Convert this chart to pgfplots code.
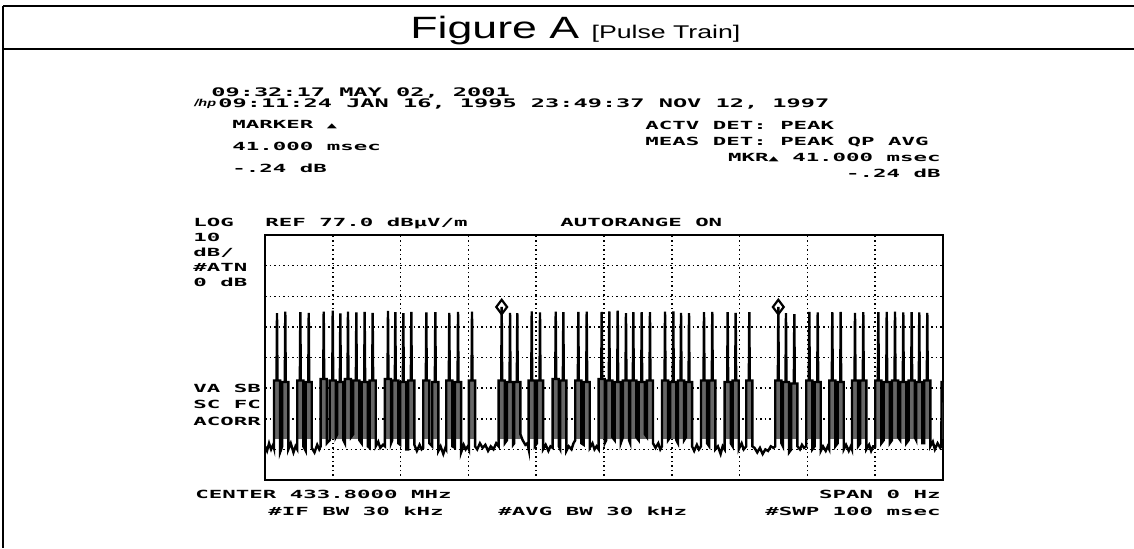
\documentclass[border=0pt]{standalone}
\usepackage{pgfplots}
\pgfplotsset{compat=1.18}
\usepackage{pgfplotstable}
\usepackage{fontspec}
\newfontfamily\hpfont[FakeStretch=2.0]{DejaVu Sans Mono Bold}
\newfontfamily\titlefont[FakeStretch=1.45]{Liberation Sans}
\newcommand\hp[1]{{\hpfont\fontsize{5.6}{6}\selectfont #1}}
\newcommand\hpt[1]{{\hpfont\fontsize{5.9}{6}\selectfont #1}}
\newcommand\dlt{{\hpfont\fontsize{4.2}{4}\selectfont ▲}}

\pgfplotstableread[row sep=\\]{
x y\\
0 8\\ 0.3 6.5\\ 0.6 9\\ 0.9 7\\ 1.2 8.5\\
1.32 7.5\\1.32 29.5\\1.70 29.5\\1.77 51.5\\1.84 29.5\\2.22 29.5\\2.22 6\\
2.54 8\\2.54 29\\2.92 29\\2.99 52\\3.06 29\\3.44 29\\3.44 7\\
3.8 9\\ 4.2 6\\ 4.5 8\\
4.76 7\\4.76 29.5\\5.14 29.5\\5.21 51.8\\5.28 29.5\\5.66 29.5\\5.66 8\\
6.00 6.5\\6.00 29\\6.38 29\\6.45 51.6\\6.52 29\\6.90 29\\6.90 7.5\\
7.3 6\\ 7.7 8.5\\ 8.0 7\\
8.21 8\\8.21 30\\8.59 30\\8.66 52\\8.73 30\\9.11 30\\9.11 9\\
9.54 10\\9.54 29.5\\9.92 29.5\\9.99 52.3\\10.06 29.5\\10.44 29.5\\10.44 11\\
10.66 12\\10.66 29\\11.04 29\\11.11 51.4\\11.18 29\\11.56 29\\11.56 10\\
11.79 9\\11.79 30\\12.17 30\\12.24 52\\12.31 30\\12.69 30\\12.69 11\\
13.02 12\\13.02 29.5\\13.40 29.5\\13.47 51.7\\13.54 29.5\\13.92 29.5\\13.92 10\\
14.25 9\\14.25 29\\14.63 29\\14.70 51.9\\14.77 29\\15.15 29\\15.15 8\\
15.43 7.5\\15.43 29.5\\15.81 29.5\\15.88 51.6\\15.95 29.5\\16.33 29.5\\16.33 8\\
16.7 9.5\\ 17.0 7.5\\ 17.4 8.5\\
17.69 8\\17.69 30\\18.07 30\\18.14 52.2\\18.21 30\\18.59 30\\18.59 9\\
18.77 10\\18.77 29.5\\19.15 29.5\\19.22 51.8\\19.29 29.5\\19.67 29.5\\19.67 9\\
19.95 8.5\\19.95 29\\20.33 29\\20.40 51.5\\20.47 29\\20.85 29\\20.85 7\\
21.13 7\\21.13 29.5\\21.51 29.5\\21.58 51.9\\21.65 29.5\\22.03 29.5\\22.03 8.5\\
22.4 6.5\\ 22.8 8.5\\ 23.1 7\\
23.34 7.5\\23.34 29.5\\23.72 29.5\\23.79 51.7\\23.86 29.5\\24.24 29.5\\24.24 9\\
24.67 8\\24.67 29\\25.05 29\\25.12 51.8\\25.19 29\\25.57 29\\25.57 6.5\\
25.9 8\\ 26.3 5.5\\ 26.6 7.5\\
26.73 7\\26.73 29.5\\27.11 29.5\\27.18 51.6\\27.25 29.5\\27.63 29.5\\27.63 8\\
28.02 7.5\\28.02 29\\28.40 29\\28.47 51.9\\28.54 29\\28.92 29\\28.92 6\\
29.3 8.5\\ 29.6 7\\ 29.9 8\\
30.08 7\\30.08 29.5\\30.46 29.5\\30.53 52\\30.60 29.5\\30.98 29.5\\30.98 8\\
31.3 7\\ 31.7 9\\ 32.1 7.5\\ 32.5 8.5\\ 32.9 6.5\\ 33.3 8\\ 33.7 7\\ 34.1 9\\
34.46 8\\34.46 29.5\\34.84 29.5\\34.91 53.5\\34.98 29.5\\35.36 29.5\\35.36 9\\
35.69 10\\35.69 29\\36.07 29\\36.14 51.6\\36.21 29\\36.59 29\\36.59 8.5\\
36.76 9\\36.76 29\\37.14 29\\37.21 51.5\\37.28 29\\37.66 29\\37.66 12\\
38.0 10\\ 38.4 8.5\\ 38.7 9\\
38.89 7\\38.89 29.5\\39.27 29.5\\39.34 52.1\\39.41 29.5\\39.79 29.5\\39.79 8\\
40.11 9\\40.11 29.5\\40.49 29.5\\40.56 51.7\\40.63 29.5\\41.01 29.5\\41.01 7\\
41.4 8.5\\ 41.8 6.5\\ 42.1 8\\
42.43 7.5\\42.43 30\\42.81 30\\42.88 52\\42.95 30\\43.33 30\\43.33 8\\
43.55 7\\43.55 29.5\\43.93 29.5\\44.00 51.8\\44.07 29.5\\44.45 29.5\\44.45 6.5\\
44.8 8\\ 45.2 7\\ 45.5 9\\
45.76 10\\45.76 29.5\\46.14 29.5\\46.21 51.9\\46.28 29.5\\46.66 29.5\\46.66 9\\
47.00 8.5\\47.00 29\\47.38 29\\47.45 52\\47.52 29\\47.90 29\\47.90 7.5\\
48.3 9\\ 48.6 7\\ 48.9 8\\
49.21 7\\49.21 30\\49.59 30\\49.66 51.9\\49.73 30\\50.11 30\\50.11 9\\
50.33 10\\50.33 29.5\\50.71 29.5\\50.78 52.1\\50.85 29.5\\51.23 29.5\\51.23 11\\
51.57 10\\51.57 29\\51.95 29\\52.02 52.3\\52.09 29\\52.47 29\\52.47 9\\
52.79 11\\52.79 29.5\\53.17 29.5\\53.24 51.5\\53.31 29.5\\53.69 29.5\\53.69 10\\
53.87 9\\53.87 29.5\\54.25 29.5\\54.32 51.8\\54.39 29.5\\54.77 29.5\\54.77 11\\
55.11 10\\55.11 29\\55.49 29\\55.56 51.8\\55.63 29\\56.01 29\\56.01 12\\
56.33 11\\56.33 29.5\\56.71 29.5\\56.78 51.8\\56.85 29.5\\57.23 29.5\\57.23 9\\
57.6 7.5\\ 58.0 9\\ 58.3 7\\
58.55 8\\58.55 29.5\\58.93 29.5\\59.00 52\\59.07 29.5\\59.45 29.5\\59.45 10\\
59.77 11\\59.77 29\\60.15 29\\60.22 52.1\\60.29 29\\60.67 29\\60.67 10\\
60.91 9\\60.91 29.5\\61.29 29.5\\61.36 51.6\\61.43 29.5\\61.81 29.5\\61.81 10\\
62.09 11\\62.09 29\\62.47 29\\62.54 51.5\\62.61 29\\62.99 29\\62.99 8\\
63.3 6.5\\ 63.7 8.5\\ 64.0 7\\
64.30 8\\64.30 29.5\\64.68 29.5\\64.75 51.8\\64.82 29.5\\65.20 29.5\\65.20 9\\
65.52 8\\65.52 29.5\\65.90 29.5\\65.97 51.9\\66.04 29.5\\66.42 29.5\\66.42 7\\
66.8 8\\ 67.2 5.5\\ 67.5 8\\
67.79 7\\67.79 29\\68.17 29\\68.24 51.8\\68.31 29\\68.69 29\\68.69 9\\
68.97 8\\68.97 29.5\\69.35 29.5\\69.42 51.6\\69.49 29.5\\69.87 29.5\\69.87 7\\
70.3 9\\ 70.6 7\\
70.98 8\\70.98 29.5\\71.36 29.5\\71.43 51.8\\71.50 29.5\\71.88 29.5\\71.88 8\\
72.2 7.5\\ 72.6 6\\ 73.0 7.5\\ 73.4 5.5\\ 73.8 7\\ 74.2 6.5\\ 74.6 8\\ 75.0 7.5\\
75.26 8\\75.26 29.5\\75.64 29.5\\75.71 53.5\\75.78 29.5\\76.16 29.5\\76.16 9\\
76.39 8\\76.39 29\\76.77 29\\76.84 51.5\\76.91 29\\77.29 29\\77.29 6\\
77.62 7\\77.62 28.5\\78.00 28.5\\78.07 51.2\\78.14 28.5\\78.52 28.5\\78.52 8\\
78.9 7\\ 79.2 8.5\\ 79.5 7.5\\
79.83 8\\79.83 29.5\\80.21 29.5\\80.28 51.9\\80.35 29.5\\80.73 29.5\\80.73 7\\
81.07 8\\81.07 29\\81.45 29\\81.52 51.7\\81.59 29\\81.97 29\\81.97 6.5\\
82.3 8\\ 82.7 6.5\\ 83.0 8\\
83.22 7\\83.22 29.5\\83.60 29.5\\83.67 51.8\\83.74 29.5\\84.12 29.5\\84.12 8\\
84.46 9\\84.46 29\\84.84 29\\84.91 51.9\\84.98 29\\85.36 29\\85.36 7\\
85.7 8.5\\ 86.1 6.5\\ 86.4 8\\
86.57 7\\86.57 29.5\\86.95 29.5\\87.02 51.6\\87.09 29.5\\87.47 29.5\\87.47 8\\
87.79 9\\87.79 29.5\\88.17 29.5\\88.24 51.8\\88.31 29.5\\88.69 29.5\\88.69 7\\
89.1 8.5\\ 89.4 6.5\\ 89.7 8\\
90.01 8\\90.01 29.5\\90.39 29.5\\90.46 51.8\\90.53 29.5\\90.91 29.5\\90.91 9\\
91.25 10\\91.25 29\\91.63 29\\91.70 51.9\\91.77 29\\92.15 29\\92.15 9\\
92.47 10\\92.47 29.5\\92.85 29.5\\92.92 52\\92.99 29.5\\93.37 29.5\\93.37 11\\
93.69 10\\93.69 29\\94.07 29\\94.14 51.7\\94.21 29\\94.59 29\\94.59 9\\
94.93 10\\94.93 29.5\\95.31 29.5\\95.38 51.8\\95.45 29.5\\95.83 29.5\\95.83 11\\
96.05 10\\96.05 29\\96.43 29\\96.50 51.7\\96.57 29\\96.95 29\\96.95 9\\
97.23 9\\97.23 29.5\\97.61 29.5\\97.68 51.6\\97.75 29.5\\98.13 29.5\\98.13 8\\
98.5 9.5\\ 98.8 7\\ 99.2 9\\ 99.6 7.5\\ 99.75 8\\ 99.8 29\\ 100 29\\
}\trace

\pgfplotstableread[row sep=\\]{
x y\\
34.91 53.5\\
75.71 53.5\\
}\markers

\begin{document}
\begin{tikzpicture}
\useasboundingbox (0,0) rectangle (567pt,-274pt);
\begin{scope}[x=0.5pt,y=-0.5pt]
  % frame
  \draw[line width=1pt] (3,6) -- (1134,6);
  \draw[line width=1pt] (3,49) -- (1134,49);
  \draw[line width=0.6pt] (3,6) -- (3,548);
  % title
  \node[anchor=base west, inner sep=0] at (410,38)
    {\titlefont\fontsize{15.4}{16}\selectfont Figure A {\fontsize{9.2}{10}\selectfont [Pulse Train]}};
  % header
  \node[anchor=base west, inner sep=0] at (211,96) {\hpt{09:32:17 MAY 02, 2001}};
  \node[anchor=base west, inner sep=0] at (194,106) {{\titlefont\bfseries\itshape\fontsize{5}{5}\selectfont /hp}};
  \node[anchor=base west, inner sep=0] at (218,107) {\hpt{09:11:24 JAN 16, 1995 23:49:37 NOV 12, 1997}};
  \node[anchor=base west, inner sep=0] at (232,128) {\hp{MARKER \dlt}};
  \node[anchor=base west, inner sep=0] at (232,150) {\hp{41.000 msec}};
  \node[anchor=base west, inner sep=0] at (232,172) {\hp{-.24 dB}};
  \node[anchor=base west, inner sep=0] at (645,129) {\hp{ACTV DET: PEAK}};
  \node[anchor=base west, inner sep=0] at (645,145) {\hp{MEAS DET: PEAK QP AVG}};
  \node[anchor=base east, inner sep=0] at (941,161) {\hp{MKR\dlt{} 41.000 msec}};
  \node[anchor=base east, inner sep=0] at (941,177) {\hp{-.24 dB}};
  % left column
  \node[anchor=base west, inner sep=0] at (193,226) {\hp{LOG}};
  \node[anchor=base west, inner sep=0] at (193,241) {\hp{10}};
  \node[anchor=base west, inner sep=0] at (193,256) {\hp{dB/}};
  \node[anchor=base west, inner sep=0] at (193,271) {\hp{\#ATN}};
  \node[anchor=base west, inner sep=0] at (193,286) {\hp{0 dB}};
  \node[anchor=base west, inner sep=0] at (265,226) {\hp{REF 77.0 dBμV/m}};
  \node[anchor=base west, inner sep=0] at (560,226) {\hp{AUTORANGE ON}};
  \node[anchor=base west, inner sep=0] at (193,392) {\hp{VA SB}};
  \node[anchor=base west, inner sep=0] at (193,408) {\hp{SC FC}};
  \node[anchor=base west, inner sep=0] at (193,425) {\hp{ACORR}};
  % bottom
  \node[anchor=base west, inner sep=0] at (195,498) {\hp{CENTER 433.8000 MHz}};
  \node[anchor=base west, inner sep=0] at (268,515) {\hp{\#IF BW 30 kHz}};
  \node[anchor=base west, inner sep=0] at (498,515) {\hp{\#AVG BW 30 kHz}};
  \node[anchor=base east, inner sep=0] at (941,498) {\hp{SPAN 0 Hz}};
  \node[anchor=base east, inner sep=0] at (941,515) {\hp{\#SWP 100 msec}};
\end{scope}
\begin{axis}[
  at={(132.5pt,-240pt)}, anchor=south west,
  width=339pt, height=122.5pt, scale only axis,
  xmin=0, xmax=100, ymin=-3, ymax=77,
  xtick={10,20,...,90}, ytick={7,17,...,67},
  xticklabels={}, yticklabels={},
  major tick length=0pt,
  grid=major,
  grid style={black, line width=0.75pt, dash pattern=on 0.75pt off 1.5pt},
  axis line style={black, line width=1.2pt},
]
\begin{scope}
\clip (axis cs:0,10.5) rectangle (axis cs:100,77);
\addplot[draw=none, fill=black!60] table {\trace} -- (axis cs:100,9) -- (axis cs:0,9) -- cycle;
\end{scope}
\addplot[black, line width=1.2pt, line join=miter] table {\trace};
\addplot[only marks, mark=diamond, mark size=3.6pt,
  mark options={black, fill=white, line width=1.1pt}] table {\markers};
\end{axis}
\end{tikzpicture}
\end{document}
